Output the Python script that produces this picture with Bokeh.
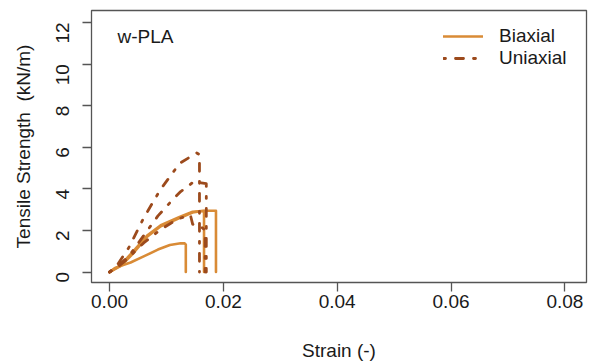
import math
from bokeh.plotting import figure
from bokeh.models import (FixedTicker, NumeralTickFormatter, Range1d, Legend,
                          LegendItem, Label)
from bokeh.embed import file_html
from bokeh.resources import INLINE

# ---- data ----
bi1_x = [0.0, 0.001, 0.002, 0.0037, 0.006, 0.0085, 0.0106, 0.0125, 0.0132, 0.0134, 0.0134]
bi1_y = [0.0, 0.2, 0.3, 0.46, 0.75, 1.08, 1.3, 1.38, 1.38, 1.32, 0.0]
bi2_x = [0.0, 0.002, 0.004, 0.0066, 0.009, 0.0123, 0.0146, 0.016, 0.0166, 0.0166]
bi2_y = [0.0, 0.3, 0.85, 1.7, 2.2, 2.6, 2.86, 2.92, 2.93, 0.0]
bi3_x = [0.0, 0.002, 0.004, 0.0066, 0.009, 0.0123, 0.0146, 0.0166, 0.0178, 0.0187, 0.0187]
bi3_y = [0.0, 0.35, 0.95, 1.75, 2.25, 2.65, 2.9, 2.95, 2.95, 2.95, 0.0]

un1_x = [0.0, 0.0015, 0.0034, 0.006, 0.0089, 0.0123, 0.0153, 0.0158, 0.0158]
un1_y = [0.0, 0.4, 1.18, 2.6, 3.95, 5.22, 5.73, 5.65, 0.0]
un2_x = [0.0, 0.0015, 0.0035, 0.006, 0.0085, 0.011, 0.0125, 0.0137, 0.0148, 0.0158, 0.017, 0.017]
un2_y = [0.0, 0.3, 0.8, 1.75, 2.7, 3.45, 3.87, 4.1, 4.35, 4.3, 4.25, 0.0]
un3_x = [0.0, 0.0015, 0.003, 0.006, 0.009, 0.012, 0.0142, 0.0146, 0.016, 0.0168, 0.0168]
un3_y = [0.0, 0.25, 0.6, 1.4, 2.05, 2.55, 2.75, 2.3, 2.2, 2.0, 0.0]

x_ticks = [0.0, 0.02, 0.04, 0.06, 0.08]
y_ticks = [0, 2, 4, 6, 8, 10, 12]
series_names = ["Biaxial", "Uniaxial"]
panel_label = "w-PLA"

ORANGE = "#D98B36"
BROWN = "#9C4A1C"
FONT = "Liberation Sans"
FS = "19px"
TXT = "#1a1a1a"
AX = "#555555"

p = figure(width=593, height=363, output_backend="svg", toolbar_location=None,
           x_range=Range1d(-0.00317, 0.0838), y_range=Range1d(-0.503, 12.575),
           min_border_left=91, min_border_right=7, min_border_top=10,
           min_border_bottom=80)
p.background_fill_color = "white"
p.border_fill_color = "white"
p.outline_line_color = AX
p.outline_line_width = 1.3
p.xgrid.visible = False
p.ygrid.visible = False

bi_renderers = []
for xs, ys in [(bi1_x, bi1_y), (bi2_x, bi2_y), (bi3_x, bi3_y)]:
    r = p.line(xs, ys, line_color=ORANGE, line_width=2.6, line_join="round",
               line_cap="round")
    bi_renderers.append(r)
un_renderers = []
for xs, ys in [(un1_x, un1_y), (un2_x, un2_y), (un3_x, un3_y)]:
    r = p.line(xs, ys, line_color=BROWN, line_width=2.8, line_dash="2 10 8 10",
               line_join="round", line_cap="round")
    un_renderers.append(r)

for ax in (p.xaxis[0], p.yaxis[0]):
    ax.axis_line_color = None
    ax.major_tick_line_color = AX
    ax.major_tick_line_width = 1.3
    ax.major_tick_out = 9
    ax.major_tick_in = 0
    ax.minor_tick_line_color = None
    ax.major_label_text_font = FONT
    ax.major_label_text_font_size = FS
    ax.major_label_text_color = TXT
    ax.axis_label_text_font = FONT
    ax.axis_label_text_font_size = FS
    ax.axis_label_text_font_style = "normal"
    ax.axis_label_text_color = TXT

p.xaxis.ticker = FixedTicker(ticks=x_ticks)
p.xaxis.formatter = NumeralTickFormatter(format="0.00")
p.xaxis.major_label_standoff = 3
p.xaxis.axis_label = "Strain (-)"
p.xaxis.axis_label_standoff = 29

p.yaxis.ticker = FixedTicker(ticks=y_ticks)
p.yaxis.formatter = NumeralTickFormatter(format="0")
p.yaxis.major_label_orientation = math.pi / 2
p.yaxis.major_label_standoff = 20
p.yaxis.axis_label = "Tensile Strength\u00a0 (kN/m)"
p.yaxis.axis_label_standoff = 13

legend = Legend(items=[LegendItem(label=series_names[0], renderers=[bi_renderers[0]]),
                       LegendItem(label=series_names[1], renderers=[un_renderers[0]])],
                location=(352, 213), orientation="vertical",
                glyph_width=40, glyph_height=20, label_height=20,
                label_standoff=16, spacing=0, padding=0, margin=0,
                border_line_color=None, background_fill_alpha=0,
                label_text_font=FONT, label_text_font_size=FS,
                label_text_color=TXT)
p.add_layout(legend, "center")

p.add_layout(Label(x=26, y=246, x_units="screen", y_units="screen", text=panel_label,
                   text_font=FONT, text_font_size=FS, text_color=TXT,
                   text_baseline="middle", text_align="left"))

open("out.html", "w").write(file_html(p, INLINE))
